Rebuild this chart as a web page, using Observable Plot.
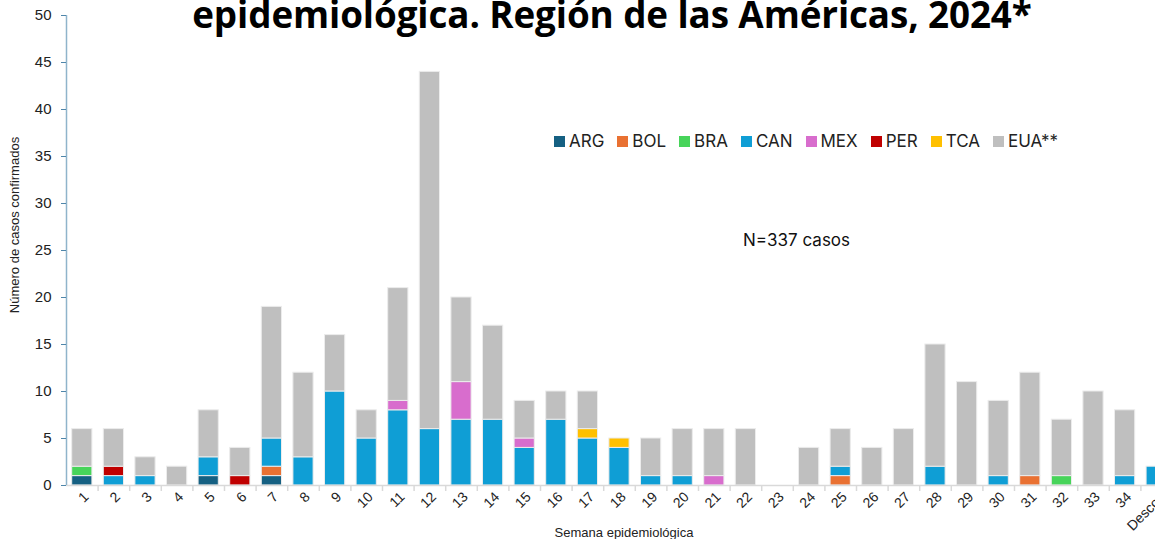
<!DOCTYPE html>
<html>
<head>
<meta charset="utf-8">
<script src="https://cdn.jsdelivr.net/npm/d3@7"></script>
<script src="https://cdn.jsdelivr.net/npm/@observablehq/plot@0.6"></script>
<style>
  html, body { margin: 0; padding: 0; background: #fff; overflow: hidden; width: 1155px; height: 539px; }
  #wrap { position: relative; width: 1155px; height: 539px; overflow: hidden; }
  #chart { position: absolute; left: 0; top: 0; width: 1180px; }
  #chart svg { max-width: none !important; width: 1180px; height: 539px; }
  .title { position: absolute; left: 0px; width: 1224px; text-align: center; top: -11px; font-family: "Open Sans", "Noto Sans", sans-serif; font-weight: 700; font-size: 36.8px; color: #000; white-space: nowrap; letter-spacing: -0.1px; }
  .legend { position: absolute; left: 554px; top: 131px; display: flex; font-family: Inter, "Liberation Sans", sans-serif; font-size: 17px; color: #222; }
  .legend .item { display: flex; align-items: center; margin-right: 13px; }
  .legend .sw { width: 11px; height: 11px; margin-right: 4px; }
  .ntext { position: absolute; left: 743px; top: 230px; font-family: Inter, "Liberation Sans", sans-serif; font-size: 17px; color: #111; }
  .ylab { position: absolute; left: 14px; top: 225px; transform: translate(-50%, -50%) rotate(-90deg); font-family: "Liberation Sans", Arial, sans-serif; font-size: 13px; color: #222; white-space: nowrap; }
  .xlab { position: absolute; left: 624px; top: 525px; transform: translateX(-50%); font-family: "Liberation Sans", Arial, sans-serif; font-size: 13px; color: #222; white-space: nowrap; }
</style>
</head>
<body>
<div id="wrap">
  <div id="chart"></div>
  <div class="title">epidemiológica. Región de las Américas, 2024*</div>
  <div class="legend" id="legend"></div>
  <div class="ntext">N=337 casos</div>
  <div class="ylab">Número de casos confirmados</div>
  <div class="xlab">Semana epidemiológica</div>
</div>
<script>
const weeks = ["1","2","3","4","5","6","7","8","9","10","11","12","13","14","15","16","17","18","19","20","21","22","23","24","25","26","27","28","29","30","31","32","33","34","Desconocida"];
const countries = ["ARG","BOL","BRA","CAN","MEX","PER","TCA","EUA**"];
const colors = ["#156082","#E97132","#47D45A","#0F9ED5","#D86DCD","#C00000","#FFC000","#BFBFBF"];

const ARG = [1,0,0,0,1,0,1,0,0,0,0,0,0,0,0,0,0,0,0,0,0,0,0,0,0,0,0,0,0,0,0,0,0,0,0];
const BOL = [0,0,0,0,0,0,1,0,0,0,0,0,0,0,0,0,0,0,0,0,0,0,0,0,1,0,0,0,0,0,1,0,0,0,0];
const BRA = [1,0,0,0,0,0,0,0,0,0,0,0,0,0,0,0,0,0,0,0,0,0,0,0,0,0,0,0,0,0,0,1,0,0,0];
const CAN = [0,1,1,0,2,0,3,3,10,5,8,6,7,7,4,7,5,4,1,1,0,0,0,0,1,0,0,2,0,1,0,0,0,1,2];
const MEX = [0,0,0,0,0,0,0,0,0,0,1,0,4,0,1,0,0,0,0,0,1,0,0,0,0,0,0,0,0,0,0,0,0,0,0];
const PER = [0,1,0,0,0,1,0,0,0,0,0,0,0,0,0,0,0,0,0,0,0,0,0,0,0,0,0,0,0,0,0,0,0,0,0];
const TCA = [0,0,0,0,0,0,0,0,0,0,0,0,0,0,0,0,1,1,0,0,0,0,0,0,0,0,0,0,0,0,0,0,0,0,0];
const EUA = [4,4,2,2,5,3,14,9,6,3,12,38,9,10,4,3,4,0,4,5,5,6,0,4,4,4,6,13,11,8,11,6,10,7,0];
const yTicks = [0,5,10,15,20,25,30,35,40,45,50];

const series = [ARG,BOL,BRA,CAN,MEX,PER,TCA,EUA];
const data = [];
countries.forEach((c, ci) => {
  weeks.forEach((w, wi) => {
    if (series[ci][wi] > 0) data.push({week: w, country: c, value: series[ci][wi]});
  });
});

const W = 1180, H = 539, ML = 66, MR = 8, MT = 15, MB = 54;
const step = (W - ML - MR) / weeks.length;
const lastWeek = weeks[weeks.length - 1];

const chart = Plot.plot({
  width: W,
  height: H,
  marginLeft: ML,
  marginRight: MR,
  marginTop: MT,
  marginBottom: MB,
  style: {fontFamily: "'Liberation Sans', Arial, sans-serif", background: "#fff", maxWidth: "none"},
  x: {domain: weeks, paddingInner: 0.36, paddingOuter: 0.18, round: false, axis: null},
  y: {domain: [0, 50], axis: null},
  color: {domain: countries, range: colors},
  marks: [
    Plot.barY(data, {
      x: "week", y: "value", fill: "country", z: "country",
      order: countries, stroke: "#ececec", strokeWidth: 1
    }),
    Plot.ruleY([0], {stroke: "#d9d9d9", strokeWidth: 1.5}),
    Plot.axisX({text: null, tickSize: 6, stroke: "#d9d9d9", strokeWidth: 1.5, dx: step / 2, label: null}),
    Plot.axisX({tickSize: 0, tickRotate: -45, tickPadding: 9, dx: 4, fontSize: 14, fill: "#222", label: null,
      tickFormat: d => d === lastWeek ? "" : d}),
    Plot.text([lastWeek], {x: d => d, frameAnchor: "bottom", text: d => d, textAnchor: "start",
      rotate: -45, dx: -24, dy: 46, fontSize: 14, fill: "#222"}),
    Plot.ruleX([weeks[0]], {x: d => d, dx: -step / 2, y1: 0, y2: 50, stroke: "#8fb4cb", strokeWidth: 1.5}),
    Plot.axisY({ticks: yTicks, tickSize: 5, tickPadding: 10, stroke: "#4f86aa", fontSize: 15, fill: "#222", label: null})
  ]
});
document.getElementById("chart").appendChild(chart);

const lg = document.getElementById("legend");
countries.forEach((c, i) => {
  const it = document.createElement("div");
  it.className = "item";
  it.innerHTML = `<span class="sw" style="background:${colors[i]}"></span><span>${c}</span>`;
  lg.appendChild(it);
});
</script>
</body>
</html>
